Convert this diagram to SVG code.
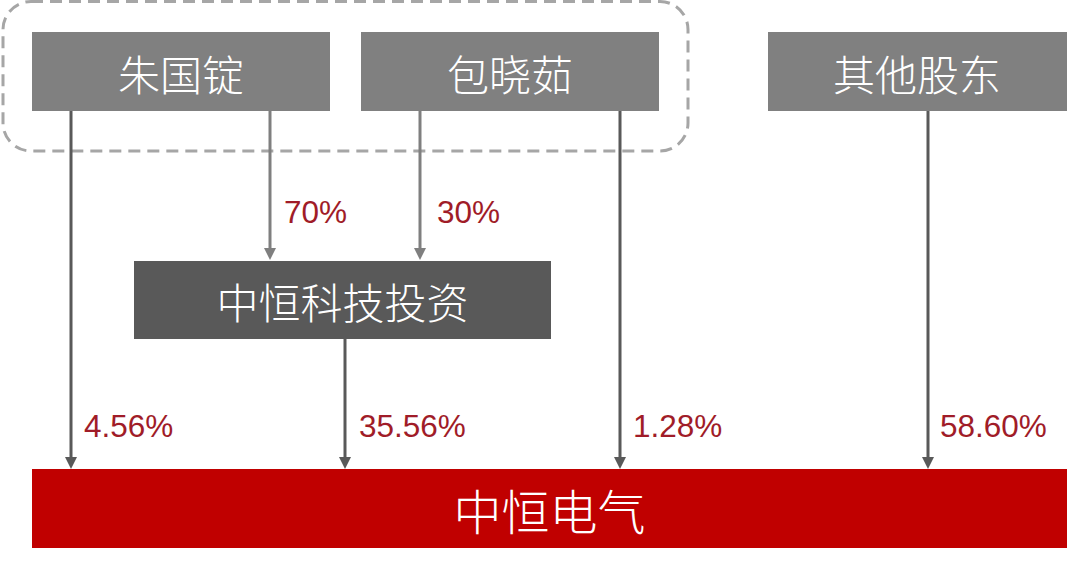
<svg xmlns="http://www.w3.org/2000/svg" width="1080" height="565" viewBox="0 0 1080 565">
<style>
.gbox{fill:#808080}
.nt{fill:#ffffff;font-family:"Noto Sans CJK SC","Noto Sans CJK JP",sans-serif;font-weight:300;text-anchor:middle;dominant-baseline:central}
.pct{fill:#a01c28;font-family:"Liberation Sans",Arial,sans-serif;font-size:31.5px}
.c1{stroke:#7f7f7f;stroke-width:3;fill:none}
.c2{stroke:#595959;stroke-width:3;fill:none}
</style>
<rect width="1080" height="565" fill="#ffffff"/>
<rect id="group-frame" x="3" y="1.5" width="685" height="149.5" rx="28" ry="28" fill="none" stroke="#a6a6a6" stroke-width="3" stroke-dasharray="12,7"/>
<g id="connectors">
<line class="c1" x1="270" y1="111" x2="270" y2="249"/>
<path d="M264,248 L276,248 L270,260 Z" fill="#7f7f7f"/>
<line class="c1" x1="420" y1="111" x2="420" y2="249"/>
<path d="M414,248 L426,248 L420,260 Z" fill="#7f7f7f"/>
<line class="c2" x1="71" y1="111" x2="71" y2="458"/>
<path d="M65,457 L77,457 L71,469 Z" fill="#595959"/>
<line class="c2" x1="345" y1="339" x2="345" y2="458"/>
<path d="M339,457 L351,457 L345,469 Z" fill="#595959"/>
<line class="c2" x1="620" y1="111" x2="620" y2="458"/>
<path d="M614,457 L626,457 L620,469 Z" fill="#595959"/>
<line class="c2" x1="928" y1="111" x2="928" y2="458"/>
<path d="M922,457 L934,457 L928,469 Z" fill="#595959"/>
<text class="pct" x="284" y="223">70%</text>
<text class="pct" x="437" y="223">30%</text>
<text class="pct" x="84" y="437">4.56%</text>
<text class="pct" x="359" y="437">35.56%</text>
<text class="pct" x="633" y="437">1.28%</text>
<text class="pct" x="940" y="437">58.60%</text>
</g>
<g id="node-zhu">
<rect class="gbox" x="32" y="32" width="298" height="79"/>
<text class="nt" x="181" y="72" font-size="42">朱国锭</text>
</g>
<g id="node-bao">
<rect class="gbox" x="361" y="32" width="298" height="79"/>
<text class="nt" x="510" y="72" font-size="42">包晓茹</text>
</g>
<g id="node-other">
<rect class="gbox" x="768" y="32" width="299" height="79"/>
<text class="nt" x="917" y="72" font-size="42">其他股东</text>
</g>
<g id="node-invest">
<rect x="134" y="261" width="417" height="78" fill="#595959"/>
<text class="nt" x="342.5" y="300" font-size="42">中恒科技投资</text>
</g>
<g id="node-electric">
<rect x="32" y="469" width="1035" height="79" fill="#c00000"/>
<text class="nt" x="549.5" y="509" font-size="48">中恒电气</text>
</g>
</svg>
